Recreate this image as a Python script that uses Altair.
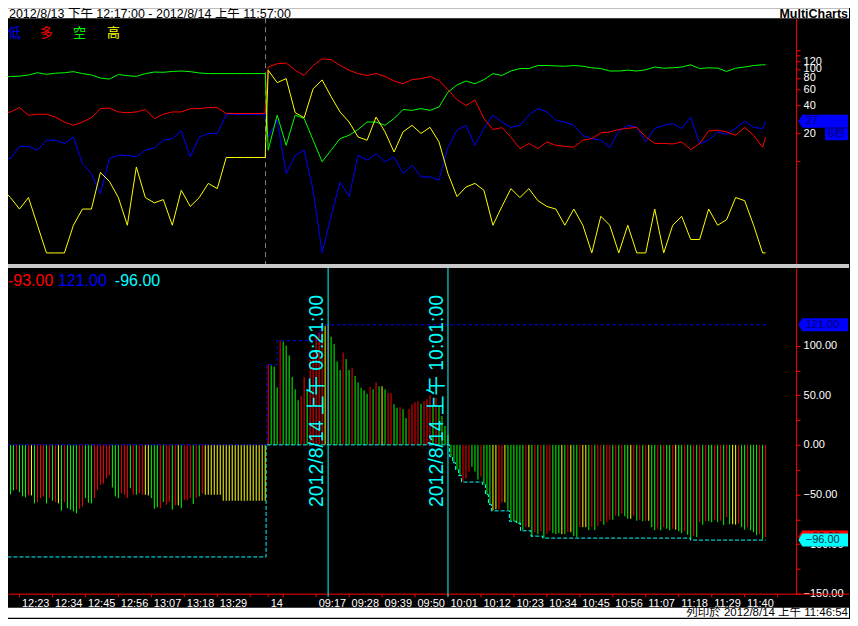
import json
import altair as alt
import pandas as pd

FONT = "Liberation Sans, Noto Sans CJK TC, sans-serif"
CJK = "Noto Sans CJK TC, sans-serif"

# ------------------------------------------------------------------ texts
TITLE_TEXT = "2012/8/13 下午 12:17:00 - 2012/8/14 上午 11:57:00"
BRAND_TEXT = "MultiCharts"
PRINT_TEXT = "列印於 2012/8/14 上午 11:46:54"
SERIES_NAMES = ["低", "多", "空", "高"]
SERIES_COLORS = ["#0000ff", "#ff0000", "#00ff00", "#ffff00"]
TIMER_TEXT = "6秒"

# ------------------------------------------------------------------ top panel data
# bar index: one bar per minute. 8/13 12:17..13:45 -> 0..88 ; 8/14 09:01..11:47 -> 89..255
TOP_IDX = list(range(0, 88, 3)) + [88] + list(range(89, 255, 3)) + [255]

LOW = [11.1, 10.6, 14.4, 14.4, 13.1, 16.8, 16.8, 15.5, 18.2, 9.4,
       7.3, 4.4, 10.6, 11.5, 11.5, 11.1, 13.1, 13.9, 16.8, 17.5,
       21.2, 11.1, 18.2, 19.9, 19.9, 32.2, 32.2, 32.2, 32.2, 32.2,
       32.2,
       18.2, 27.7, 7.3, 11.5, 13.1, 4.8, 1.0, 2.5, 5.9, 4.1,
       11.5, 10.2, 12.0, 9.8, 11.1, 7.3, 9.0, 6.7, 6.7, 6.2,
       14.1, 21.6, 24.4, 14.8, 22.5, 31.4, 26.5,
       23.2, 24.4, 31.4, 37.1, 34.1, 27.7, 26.5, 24.4, 19.0, 17.5,
       16.8, 14.0, 21.2, 24.4, 23.2, 16.1, 22.5, 24.4, 25.5, 22.5,
       30.0, 15.3, 16.8, 20.7, 19.5, 22.8, 27.0, 23.2, 22.5,
       27.0]

LONG = [32.2, 34.1, 38.0, 31.4, 32.2, 32.2, 30.0, 26.5, 24.4, 26.5,
        29.5, 37.0, 37.5, 34.1, 33.4, 34.1, 36.2, 28.9, 32.2, 34.1,
        34.1, 37.0, 37.0, 38.0, 38.0, 32.8, 32.8, 32.8, 32.8, 32.8,
        32.8,
        105, 114, 116, 97, 85, 109, 129, 126, 109, 97,
        89, 85, 89, 83, 74, 69, 76.6, 78.5, 83, 75,
        59.6, 46.4, 40, 46, 28.9, 22, 23,
        18.2, 13.6, 15.5, 13.6, 16.1, 14.8, 14.4, 14.1, 16.8, 17.5,
        20.2, 20.7, 22.0, 22.6, 23.2, 18.2, 15.5, 15.5, 15.3, 16.1,
        13.3, 15.5, 21.2, 21.6, 20.7, 19.0, 23.2, 19.0, 14.1,
        18.2]

SHORT = [80, 83, 83.5, 86, 91, 87.4, 90, 91, 93.5, 89,
         86, 79.7, 77.6, 87, 84.6, 83, 89, 92.6, 92, 94,
         95, 93.5, 90.5, 89, 89, 89, 89, 89, 89, 89,
         89,
         13.1, 31.5, 14.8, 31.5, 28.9, 16.8, 9.8, 13.1, 17.5, 19,
         22, 26.5, 26.5, 24.4, 28.9, 36.2, 35.5, 37.1, 35.5, 38.6,
         56, 67, 74, 69, 76.6, 89, 85,
         95, 101, 101, 109, 109, 108, 107, 109, 107, 103,
         101, 95, 95, 97, 95, 98, 105, 102, 103, 105,
         111, 101, 103, 102, 94, 102, 105, 109, 111,
         111]

HIGH = [5, 4, 3, 4, 2, 1, 1, 1, 2, 3,
        3, 7.5, 6, 4, 2, 8.6, 4, 3.5, 3.8, 2,
        4.8, 3.2, 4, 5.7, 5, 10.9, 10.9, 10.9, 10.9, 10.9,
        10.9,
        97, 71, 78.5, 33.5, 29.5, 61, 76, 50, 34, 26.5,
        18.2, 16.8, 30, 20.7, 12.5, 20.7, 24.4, 19.9, 23.2, 16.1,
        7.3, 4.1, 5.2, 5.7, 4.8, 2, 3.2,
        5, 4, 5, 3.7, 3.2, 3, 2, 3, 2, 1,
        2.5, 2, 1, 2, 1, 1, 3, 1, 2, 2.5,
        1.4, 1.4, 3, 2, 2.3, 4, 3.7, 2, 1,
        1]

TOP_TICKS = [10, 20, 40, 60, 80, 100, 120, 140, 160]
TOP_LABELLED = [20, 40, 60, 80, 100, 120]
SESSION_BREAK = [88.1]

# ------------------------------------------------------------------ bottom panel data
BAR_VALUES = [
    # 8/13 12:17 .. 13:45
    -49, -53, -42, -50, -46, -45, -47.6, -52, -53, -51,
    -51, -59, -57.7, -53.7, -52, -59, -53.7, -56.4, -57.7, -59,
    -66.4, -57.7, -63.8, -65.4, -67, -69, -64.4, -62, -53.7, -58.4,
    -59, -53.7, -45.3, -40.3, -39.3, -33.9, -30.9, -43, -52, -53.7,
    -49, -50.3, -53.7, -43.6, -50.3, -50.3, -49, -50.3, -50.3, -51,
    -53.7, -64.4, -63, -63.8, -57.7, -60.4, -57.7, -65.4, -61, -61,
    -63.8, -55.7, -55.7, -53.7, -59.7, -53.7, -52, -49, -50.3, -50.3,
    -50.3, -50.3, -50.3, -50.3, -56.4, -56.4, -56.4, -56.4, -56.4, -56.4,
    -56.4, -56.4, -56.4, -56.4, -56.4, -56.4, -56.4, -56.4, -56.4,
    # 8/14 09:01 .. 10:01
    81, 80, 79, 58, 105, 104, 100, 90, 68.5, 56,
    45, 49, 68.5, 56, 86, 91, 109, 113, 114, 120,
    121, 109, 101.5, 84, 75.5, 93, 86.5, 75.5, 77.5, 69.5,
    63, 57.5, 55, 51.5, 58.5, 56, 63, 59, 59, 56,
    52.5, 52, 41, 37.5, 38, 36, 27, 36, 41, 43,
    44, 41.5, 44, 46, 50, 40, 47.5, 38.5, 29, 19,
    10,
    # 10:02 .. 11:47
    -12, -18, -25, -31, -37, -34, -27, -22, -27, -35,
    -32, -40, -50, -60, -66, -65, -65,
    -58, -58, -65.4, -76.5, -77, -79, -80.5, -86, -83, -83,
    -93, -88, -90, -87, -94, -90, -86.5, -89, -90, -89,
    -90, -90, -88, -88, -92, -93, -83, -83, -83, -86,
    -83, -86, -82, -77, -80.5, -78, -75.5, -75.5, -71.5, -72,
    -69.5, -72, -74.5, -74.5, -71.5, -76.5, -75.5, -77, -76.5, -76.5,
    -83, -86, -84.6, -86, -83, -84.6, -86, -84.6, -85.5, -87,
    -89, -87, -90.6, -95.6, -92, -93, -78, -80.5, -77, -77,
    -78, -75.5, -78, -76.5, -81, -73, -80, -80, -80.5, -79.6,
    -83, -85.5, -83, -86, -88, -91, -90, -95, -93,
]
BAR_COLORS = (
    "ggrggrgggr" "ygrrrgrgry" "grggggrrgg" "grrrrrrggg" "rrrgrgrryy"
    "gggrgrrgry" "grrrgrgryy" "yyyy" "yyyyyyyyyyyyyyy"
    "rgggrggggg" "grrgrrrrry" "rggggrggrg" "ggggrgrgyg" "rrggrggrrr"
    "rgrrrgrggg" "g"
    "ggggrrrgggrgggyyr"
    "ryggggggry" "grgrgrrggg" "ygryggryyg" "rgrrgrrgrg" "rggyrgrgry"
    "ggrgrggryg" "grggrgrgrg" "grgrgrgyyr" "ggrgggrgr"
)
BAR_COLOR_KEYS = ["r", "g", "y"]
BAR_COLOR_RANGE = ["#ff0000", "#00ff00", "#ffff00"]

# running max (blue dashed) and running min (cyan dashed), read as steps
MAX_STEP_IDX = [0, 88.5, 92, 105.7, 107.3, 255]
MAX_STEP_VAL = [0, 81, 105, 114.8, 121, 121]
MIN_STEP_IDX = [0, 88.3, 149.5, 150.5, 151.5, 152.5, 153.5, 160.5, 161.5, 162.5,
                163.5, 169.5, 171.8, 173.2, 176.7, 180.6, 229.9, 255]
MIN_STEP_VAL = [-113, 0, -12, -18, -25, -31, -37.5, -40, -50, -60,
                -66.5, -77, -79, -86.6, -92, -94, -96, -96]

CURSOR_IDX = [109, 149]
CURSOR_TEXT = ["2012/8/14 上午 09:21:00", "2012/8/14 上午 10:01:00"]

TICK_IDX = [6, 17, 28, 39, 50, 61, 72, 83, 89, 94, 105, 116, 127, 138, 149,
            160, 171, 182, 193, 204, 215, 226, 237, 248, 259]
TICK_LABELS = ["12:23", "12:34", "12:45", "12:56", "13:07", "13:18", "13:29", "",
               "14", "", "09:17", "09:28", "09:39", "09:50", "10:01", "10:12",
               "10:23", "10:34", "10:45", "10:56", "11:07", "11:18", "11:29",
               "11:40", ""]
BOT_TICKS = [-150, -125, -100, -75, -50, -25, 0, 25, 50, 75, 100]

# ------------------------------------------------------------------ layout
TOTAL_W = 842
W = 789
H_TOP = 246
H_BOT = 326
X_DOMAIN = [2.16667, 265.16667]
RED = "#ff0000"
TAG_W = 49.7
TAG_PATH = "M-1,0L-0.839,-0.2616L1,-0.2616L1,0.2616L-0.839,0.2616Z"
TAG_X = W + 27.15
BOX_PATH = "M-1,-0.52L1,-0.52L1,0.52L-1,0.52Z"
BOX_X = W + 40.5

one = pd.DataFrame({"a": [0]})

X_SCALE = alt.Scale(domain=X_DOMAIN, nice=False, zero=False)

# ------------------------------------------------------------------ header
header = alt.layer(
    alt.Chart(one).mark_text(text=TITLE_TEXT, align="left", baseline="alphabetic",
                             fontSize=12.5, color="#000000", font=FONT)
    .encode(x=alt.value(1), y=alt.value(10)),
    alt.Chart(one).mark_text(text=BRAND_TEXT, align="right", baseline="alphabetic",
                             fontSize=12.5, fontWeight="bold", color="#000000", font=FONT)
    .encode(x=alt.value(TOTAL_W - 1), y=alt.value(10)),
).properties(width=TOTAL_W, height=10, view=alt.ViewBackground(fill="#ffffff", stroke=None))

# ------------------------------------------------------------------ top panel
top_axis = alt.Axis(
    orient="right", values=TOP_TICKS,
    labelExpr=f"indexof({json.dumps(TOP_LABELLED)}, datum.value) >= 0 ? format(datum.value, 'd') : ''",
    tickSize=4, labelPadding=3, domainColor=RED, tickColor=RED, labelColor="#ffffff",
    labelFont=FONT, labelFontSize=11, grid=False, title=None,
    labelOverlap=False, labelFlush=False, zindex=0,
)
X_TOP = alt.X("i:Q", scale=X_SCALE, axis=None)
Y_TOP = alt.Y("v:Q", scale=alt.Scale(type="log", domain=[0.757, 355], nice=False), axis=top_axis)

top_layers = [
    alt.Chart(pd.DataFrame({"i": SESSION_BREAK}))
    .mark_rule(color="#808080", strokeDash=[5, 4], strokeWidth=1)
    .encode(x=X_TOP)
]
for vals, col in zip([LOW, LONG, SHORT, HIGH], SERIES_COLORS):
    top_layers.append(
        alt.Chart(pd.DataFrame({"i": TOP_IDX, "v": vals}))
        .mark_line(color=col, strokeWidth=1, clip=True)
        .encode(x=X_TOP, y=Y_TOP)
    )
for name, col, xp in zip(SERIES_NAMES, SERIES_COLORS, [0, 32, 65, 99]):
    top_layers.append(
        alt.Chart(one).mark_text(text=name, color=col, fontSize=13, font=CJK,
                                 align="left", baseline="alphabetic")
        .encode(x=alt.value(xp), y=alt.value(19))
    )
last_low = pd.DataFrame({"v": [LOW[-1]]})
top_layers += [
    alt.Chart(last_low).mark_point(shape=TAG_PATH, size=TAG_W ** 2, filled=True, opacity=1,
                                   color="#0000ff", strokeWidth=0)
    .encode(x=alt.value(TAG_X), y=Y_TOP),
    alt.Chart(last_low).mark_text(align="left", baseline="middle", fontSize=11,
                                  color="#000066", font=FONT)
    .encode(x=alt.value(W + 9.7), y=Y_TOP, text=alt.Text("v:Q", format="d")),
    alt.Chart(last_low).mark_point(shape=BOX_PATH, size=529, filled=True, opacity=1,
                                   color="#0000ff", strokeWidth=0, yOffset=13)
    .encode(x=alt.value(BOX_X), y=Y_TOP),
    alt.Chart(last_low).mark_text(text=TIMER_TEXT, align="center", baseline="middle",
                                  fontSize=11, color="#000066", font=FONT, dy=13)
    .encode(x=alt.value(BOX_X), y=Y_TOP),
]
top = alt.layer(*top_layers).properties(width=W, height=H_TOP)

# ------------------------------------------------------------------ separator / spacer
sep = alt.Chart(one).mark_text(text=" ").encode(x=alt.value(0), y=alt.value(0)).properties(
    width=TOTAL_W, height=4, view=alt.ViewBackground(fill="#c8c8c8", stroke=None))
axis_room = alt.Chart(one).mark_text(text=" ").encode(x=alt.value(0), y=alt.value(0)).properties(
    width=TOTAL_W, height=14)

# ------------------------------------------------------------------ bottom panel
x_label_expr = (f"indexof({json.dumps(TICK_IDX)}, datum.value) >= 0 ? "
                f"{json.dumps(TICK_LABELS, ensure_ascii=False)}[indexof({json.dumps(TICK_IDX)}, datum.value)] : ''")
bot_x_axis = alt.Axis(
    values=TICK_IDX, labelExpr=x_label_expr, tickSize=3, labelPadding=1,
    labelAlign="left", labelOffset=2, labelBaseline="top",
    domainColor=RED, tickColor=RED, labelColor="#ffffff", labelFont=FONT, labelFontSize=11,
    grid=False, title=None, labelOverlap=False, labelFlush=False, zindex=0,
)
bot_y_axis = alt.Axis(
    orient="right", values=BOT_TICKS,
    labelExpr="datum.value % 50 == 0 ? format(datum.value, '.2f') : ''",
    tickSize=4, labelPadding=3, domainColor=RED, tickColor=RED, labelColor="#ffffff",
    labelFont=FONT, labelFontSize=11, grid=False, title=None,
    labelOverlap=False, labelFlush=False, zindex=0,
)
X_BOT = alt.X("i:Q", scale=X_SCALE, axis=bot_x_axis)
Y_BOT = alt.Y("v:Q", scale=alt.Scale(domain=[-150, 178.2], nice=False, zero=False), axis=bot_y_axis)

bars_df = pd.DataFrame({
    "i": list(range(len(BAR_VALUES))),
    "v": BAR_VALUES,
    "v0": [0] * len(BAR_VALUES),
    "c": list(BAR_COLORS),
})
CUR = BAR_VALUES[-1]
MAXV = MAX_STEP_VAL[-1]
MINV = MIN_STEP_VAL[-1]

bot_layers = [
    alt.Chart(bars_df).mark_rule(strokeWidth=1, clip=True).encode(
        x=X_BOT, y=Y_BOT, y2=alt.Y2("v0:Q"),
        color=alt.Color("c:N", scale=alt.Scale(domain=BAR_COLOR_KEYS, range=BAR_COLOR_RANGE), legend=None),
    ),
    alt.Chart(pd.DataFrame({"i": MAX_STEP_IDX, "v": MAX_STEP_VAL}))
    .mark_line(interpolate="step-after", color="#0000ff", strokeDash=[3, 3], strokeWidth=1, clip=True)
    .encode(x=X_BOT, y=Y_BOT),
    alt.Chart(pd.DataFrame({"i": MIN_STEP_IDX, "v": MIN_STEP_VAL}))
    .mark_line(interpolate="step-after", color="#00ffff", strokeDash=[4, 2], strokeWidth=1, clip=True)
    .encode(x=X_BOT, y=Y_BOT),
    alt.Chart(pd.DataFrame({"i": CURSOR_IDX}))
    .mark_rule(color="#00ffff", strokeWidth=1)
    .encode(x=X_BOT, y=alt.value(0), y2=alt.value(H_BOT + 3)),
    alt.Chart(pd.DataFrame({"i": CURSOR_IDX, "t": CURSOR_TEXT}))
    .mark_text(angle=270, align="left", baseline="alphabetic", fontSize=19.5,
               color="#00ffff", font=FONT, xOffset=-5)
    .encode(x=X_BOT, y=alt.value(239.3), text="t:N"),
    alt.Chart(one).mark_rule(color=RED, strokeWidth=1)
    .encode(x=alt.value(W), x2=alt.value(TOTAL_W), y=alt.value(H_BOT + 0.5)),
]
for txt, col, xp in zip([f"{CUR:.2f}", f"{MAXV:.2f}", f"{MINV:.2f}"],
                        ["#ff0000", "#0000ff", "#00ffff"], [0, 50, 107]):
    bot_layers.append(
        alt.Chart(one).mark_text(text=txt, color=col, fontSize=16, font=FONT,
                                 align="left", baseline="alphabetic")
        .encode(x=alt.value(xp), y=alt.value(17.5))
    )
for val, fill, tcol in [(MAXV, "#0000ff", "#000070"), (CUR, "#ff0000", "#400000"),
                        (MINV, "#00ffff", "#003040")]:
    d = pd.DataFrame({"v": [val]})
    bot_layers.append(
        alt.Chart(d).mark_point(shape=TAG_PATH, size=TAG_W ** 2, filled=True, opacity=1,
                                color=fill, strokeWidth=0)
        .encode(x=alt.value(TAG_X), y=Y_BOT)
    )
    bot_layers.append(
        alt.Chart(d).mark_text(align="left", baseline="middle", fontSize=11, color=tcol, font=FONT)
        .encode(x=alt.value(W + 9.7), y=Y_BOT, text=alt.Text("v:Q", format=".2f"))
    )
bottom = alt.layer(*bot_layers).properties(width=W, height=H_BOT)

# ------------------------------------------------------------------ footer
footer = alt.Chart(one).mark_text(text=PRINT_TEXT, align="right", baseline="alphabetic",
                                  fontSize=11.5, color="#000000", font=FONT).encode(
    x=alt.value(TOTAL_W - 1), y=alt.value(8.3)
).properties(width=TOTAL_W, height=10, view=alt.ViewBackground(fill="#ffffff", stroke=None))

chart = alt.vconcat(header, top, sep, bottom, axis_room, footer, spacing=0, bounds="flush").properties(
    padding=0, background="#000000"
).configure_view(stroke=None)

chart.save("out.html", embed_options={"renderer": "svg", "actions": False})
